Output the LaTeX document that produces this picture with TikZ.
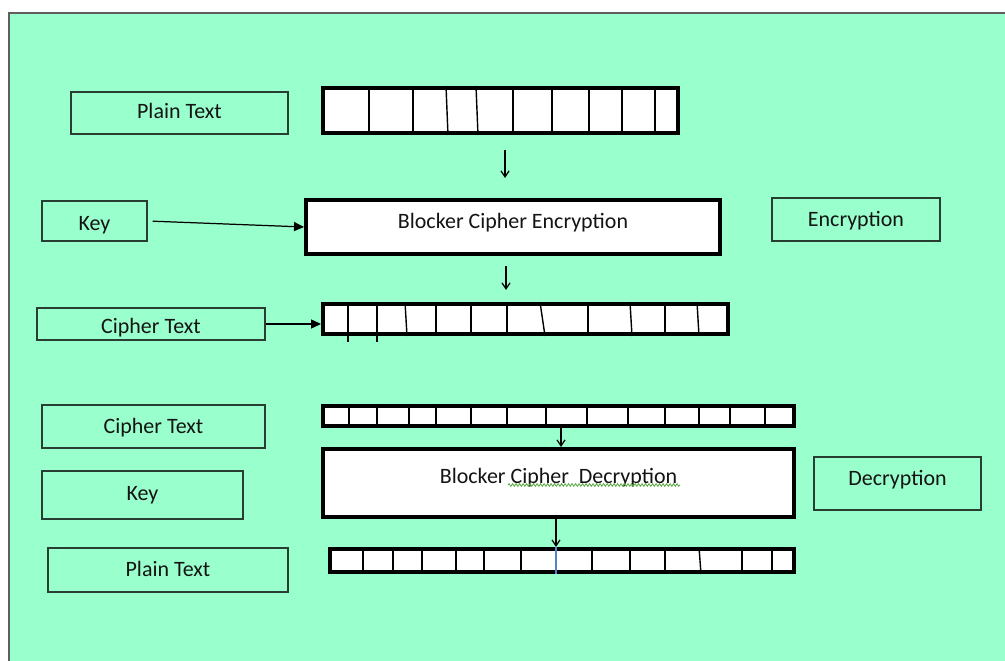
\documentclass[tikz,border=0pt]{standalone}
\usepackage{fontspec}
\setmainfont{Carlito}
\usetikzlibrary{arrows.meta,decorations.pathmorphing}

\definecolor{sheetGreen}{RGB}{153,255,204}
\definecolor{frameGrey}{RGB}{95,95,95}
\definecolor{boxEdge}{RGB}{40,62,50}
\definecolor{markBlue}{RGB}{85,130,200}
\definecolor{spellGreen}{RGB}{95,170,70}

\tikzstyle{labelBox} = [draw=boxEdge, line width=0.85pt, inner sep=0pt, text height=11pt, text depth=0pt]
\tikzstyle{cipherStage} = [draw, fill=white, line width=2pt, inner sep=0pt, text height=11pt]
\tikzstyle{dataBar} = [draw, fill=white, line width=2pt, inner sep=0pt]
\tikzstyle{divider} = [line width=0.8pt]
\tikzstyle{downArrow} = [draw, line width=0.7pt, -{Straight Barb[length=0.12cm,width=0.16cm]}]
\tikzstyle{feedArrow} = [draw, line width=0.7pt, -{Triangle[length=0.2cm,width=0.18cm]}]

\begin{document}
\begin{tikzpicture}[x=0.02cm, y=-0.02cm, font=\fontsize{12.5}{15}\selectfont, text=black!92]
		\useasboundingbox (0,0) rectangle (1005,661);
		% sheet
		\fill[white] (0,0) rectangle (1005,661);
		\fill[sheetGreen] (9,13) rectangle (1005,661);
		\draw[frameGrey, line width=0.9pt] (9,661) -- (9,13) -- (1005,13);

		% Encryption
		\path (500.5,110.5) node (plainBar) [dataBar, minimum width=7.11cm, minimum height=0.91cm] {};
		\path (179.5,113) node (plainIn) [labelBox, minimum width=4.34cm, minimum height=0.84cm, text depth=0.186cm] {Plain Text};
		\path (513,227) node (encBox) [cipherStage, minimum width=8.29cm, minimum height=1.09cm, text depth=0.346cm] {Blocker Cipher Encryption};
		\path (94.5,221) node (keyIn) [labelBox, minimum width=2.10cm, minimum height=0.80cm, text depth=0.026cm] {Key};
		\path (encBox)+(343,-7.5) node (encLabel) [labelBox, minimum width=3.36cm, minimum height=0.86cm, text depth=0.126cm] {Encryption};
		\path (525.5,319) node (cipherBar) [dataBar, minimum width=8.11cm, minimum height=0.61cm] {};
		\path (151,324) node (cipherOut) [labelBox, minimum width=4.56cm, minimum height=0.64cm] {Cipher Text};

		\foreach \a/\b in {369/369, 413/413, 446/448, 476/478, 513/513, 552/552, 589/589, 622/622, 655/655}
			\draw[divider] (\a,0 |- plainBar.north) -- (\b,0 |- plainBar.south);
		\foreach \a/\b in {405/407, 436/436, 471/471, 507/507, 540/545, 588/588, 630/632, 665/665, 697/699}
			\draw[divider] (\a,0 |- cipherBar.north) -- (\b,0 |- cipherBar.south);
		% two cells poke out under the bar
		\foreach \a in {348, 377}
			\draw[divider] (\a,0 |- cipherBar.north) -- (\a,342);

		\path [downArrow, shorten <=0.3cm, shorten >=0.4cm] (plainBar.south -| 505,0) -- (encBox.north -| 505,0);
		\path [downArrow, shorten <=0.2cm, shorten >=0.24cm] (encBox.south -| 506,0) -- (cipherBar.north -| 506,0);
		\path [feedArrow, shorten <=0.1cm] (keyIn.east) -- (encBox.west);
		\path [feedArrow] (cipherOut.east) -- (cipherOut.east -| cipherBar.west);

		% Decryption
		\path (558.5,416) node (cipherBarB) [dataBar, minimum width=9.43cm, minimum height=0.41cm] {};
		\path (558.5,483) node (decBox) [cipherStage, minimum width=9.43cm, minimum height=1.37cm, text depth=0.386cm] {Blocker Cipher~~Decryption};
		\path (562,560.5) node (plainBarB) [dataBar, minimum width=9.29cm, minimum height=0.47cm] {};
		\path (153.5,426.5) node (cipherIn) [labelBox, minimum width=4.46cm, minimum height=0.86cm, text depth=0.126cm] {Cipher Text};
		\path (142.5,495) node (keyInB) [labelBox, minimum width=4.02cm, minimum height=0.96cm, text depth=0.186cm] {Key};
		\path (168,570) node (plainOut) [labelBox, minimum width=4.80cm, minimum height=0.88cm, text depth=0.146cm] {Plain Text};
		\path (decBox)+(339,0.5) node (decLabel) [labelBox, minimum width=3.34cm, minimum height=1.06cm, text depth=0.326cm] {Decryption};

		\foreach \x in {349, 377, 409, 436, 471, 507, 546, 587, 628, 665, 699, 730, 765}
			\draw[divider] (\x,0 |- cipherBarB.north) -- (\x,0 |- cipherBarB.south);
		\foreach \a/\b in {363/363, 393/393, 422/422, 456/456, 484/484, 521/521, 592/592, 630/630, 665/665, 699/701, 742/742, 772/772}
			\draw[divider] (\a,0 |- plainBarB.north) -- (\b,0 |- plainBarB.south);
		\draw[divider, markBlue] (556,0 |- plainBarB.north) -- (556,0 |- plainBarB.south);

		\path [downArrow] (cipherBarB.south -| 561,0) -- (decBox.north -| 561,0);
		\path [downArrow] (decBox.south -| 556,0) -- (plainBarB.north -| 556,0);

		% wavy mark under the second and third word
		\draw[spellGreen, line width=0.5pt, decorate, decoration={snake, segment length=0.07cm, amplitude=0.025cm}] (508,485) -- (680,485);
\end{tikzpicture}
\end{document}
